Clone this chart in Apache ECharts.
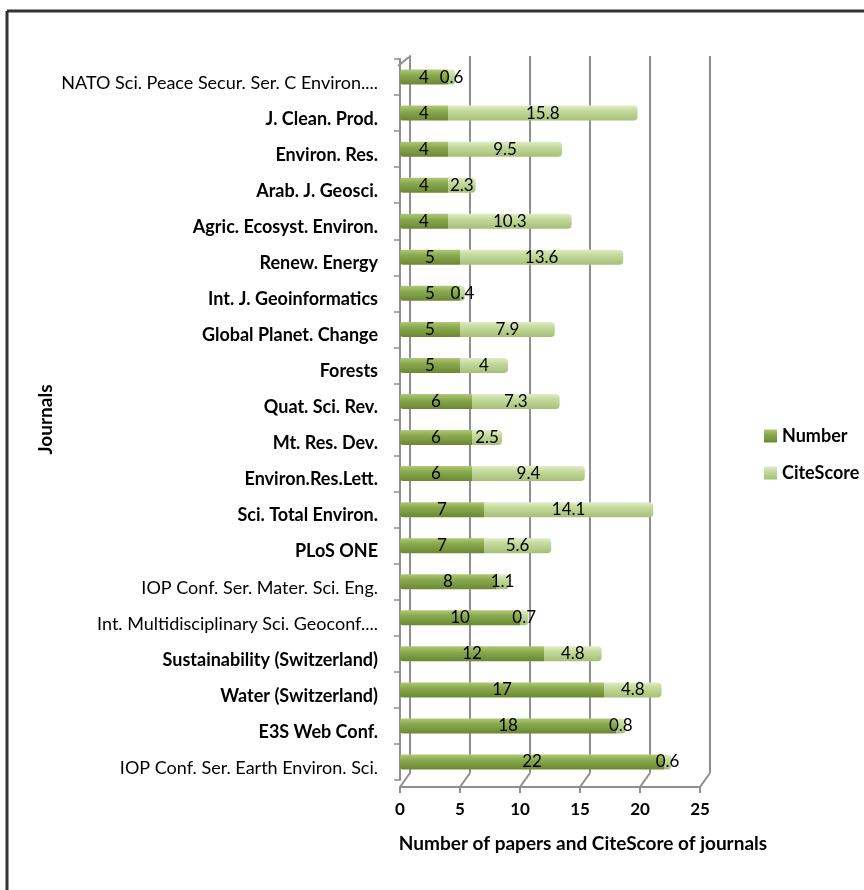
<!DOCTYPE html>
<html>
<head>
<meta charset="utf-8">
<script src="https://cdn.jsdelivr.net/npm/echarts@6/dist/echarts.min.js"></script>
<style>
  html, body { margin: 0; padding: 0; background: #fff; }
</style>
</head>
<body>
<div id="main" style="width:864px;height:890px;"></div>
<script>
// journals, listed bottom to top (as the category axis draws them)
var journals = [
  'IOP Conf. Ser. Earth Environ. Sci.',
  'E3S Web Conf.',
  'Water (Switzerland)',
  'Sustainability (Switzerland)',
  'Int. Multidisciplinary Sci. Geoconf....',
  'IOP Conf. Ser. Mater. Sci. Eng.',
  'PLoS ONE',
  'Sci. Total Environ.',
  'Environ.Res.Lett.',
  'Mt. Res. Dev.',
  'Quat. Sci. Rev.',
  'Forests',
  'Global Planet. Change',
  'Int. J. Geoinformatics',
  'Renew. Energy',
  'Agric. Ecosyst. Environ.',
  'Arab. J. Geosci.',
  'Environ. Res.',
  'J. Clean. Prod.',
  'NATO Sci. Peace Secur. Ser. C Environ....'
];
var numbers = [22, 18, 17, 12, 10, 8, 7, 7, 6, 6, 6, 5, 5, 5, 5, 4, 4, 4, 4, 4];
var citeScores = [0.6, 0.8, 4.8, 4.8, 0.7, 1.1, 5.6, 14.1, 9.4, 2.5, 7.3, 4, 7.9, 0.4, 13.6, 10.3, 2.3, 9.5, 15.8, 0.6];
var xTicks = [0, 5, 10, 15, 20, 25];

// these names are drawn in regular weight, the rest bold
var plainNames = [
  'IOP Conf. Ser. Earth Environ. Sci.',
  'Int. Multidisciplinary Sci. Geoconf....',
  'IOP Conf. Ser. Mater. Sci. Eng.',
  'NATO Sci. Peace Secur. Ser. C Environ....'
];

var font = 'Lato, "Open Sans", sans-serif';
var gridColor = '#8f8f8f';

var myChart = echarts.init(document.getElementById('main'));

function grad(top, mid, bottom) {
  return new echarts.graphic.LinearGradient(0, 0, 0, 1, [
    { offset: 0, color: top },
    { offset: 0.35, color: mid },
    { offset: 1, color: bottom }
  ]);
}

myChart.setOption({
  backgroundColor: '#fff',
  textStyle: { fontFamily: font },
  animation: false,
  legend: {
    orient: 'vertical',
    left: 759,
    top: 422,
    itemWidth: 13,
    itemHeight: 13,
    itemGap: 19,
    icon: 'rect',
    textStyle: { fontFamily: font, fontSize: 18, fontWeight: 'bold', color: '#000' },
    data: ['Number', 'CiteScore']
  },
  grid: [
    // front plane with the bars
    { left: 400, right: 164, top: 59, bottom: 110 },
    // back wall, shifted for the 3D look
    { left: 410, right: 154, top: 56, bottom: 117 }
  ],
  xAxis: [
    {
      gridIndex: 0,
      type: 'value',
      min: xTicks[0],
      max: xTicks[xTicks.length - 1],
      interval: 5,
      offset: 7,
      name: 'Number of papers and CiteScore of journals',
      nameLocation: 'middle',
      nameGap: 47,
      nameTextStyle: { fontFamily: font, fontSize: 19, fontWeight: 'bold', color: '#000', padding: [0, 0, 0, 66] },
      axisLine: { show: true, lineStyle: { color: gridColor, width: 2 } },
      axisTick: { show: true, length: 6, lineStyle: { color: gridColor, width: 2 } },
      axisLabel: { margin: 14, fontFamily: font, fontSize: 17, fontWeight: 'bold', color: '#000' },
      splitLine: { show: false }
    },
    {
      gridIndex: 1,
      type: 'value',
      min: 0,
      max: 25,
      interval: 5,
      axisLine: { show: false },
      axisTick: { show: false },
      axisLabel: { show: false },
      splitLine: { show: true, lineStyle: { color: gridColor, width: 2 } }
    }
  ],
  yAxis: [
    {
      gridIndex: 0,
      type: 'category',
      data: journals,
      offset: 2,
      name: 'Journals',
      nameLocation: 'middle',
      nameGap: 343,
      nameRotate: 90,
      nameTextStyle: { fontFamily: font, fontSize: 19, fontWeight: 'bold', color: '#000' },
      axisLine: { show: true, lineStyle: { color: gridColor, width: 2 } },
      axisTick: { show: true, length: 6, lineStyle: { color: gridColor, width: 1.5 } },
      axisLabel: {
        margin: 20,
        formatter: function (v) {
          return plainNames.indexOf(v) >= 0 ? '{n|' + v + '}' : '{b|' + v + '}';
        },
        rich: {
          n: { fontFamily: font, fontSize: 18, color: '#000', padding: [12, 0, 0, 0] },
          b: { fontFamily: font, fontSize: 18, fontWeight: 'bold', color: '#000', padding: [12, 0, 0, 0] }
        }
      }
    },
    {
      gridIndex: 1,
      type: 'value',
      axisLine: { show: true, lineStyle: { color: gridColor, width: 2 } },
      axisTick: { show: false },
      axisLabel: { show: false },
      splitLine: { show: false }
    }
  ],
  series: [
    {
      name: 'Number',
      type: 'bar',
      stack: 'total',
      xAxisIndex: 0,
      yAxisIndex: 0,
      barWidth: 15,
      z: 3,
      itemStyle: {
        color: grad('#b0c978', '#8cab50', '#6a8733'),
        borderRadius: [3, 0, 0, 3]
      },
      label: { show: true, position: 'inside', fontFamily: font, fontSize: 17, color: '#000' },
      data: numbers
    },
    {
      name: 'CiteScore',
      type: 'bar',
      stack: 'total',
      xAxisIndex: 0,
      yAxisIndex: 0,
      barWidth: 15,
      z: 3,
      itemStyle: {
        color: grad('#e0ecc8', '#c5da9c', '#a6bf78'),
        borderRadius: [0, 4, 4, 0]
      },
      label: { show: true, position: 'inside', fontFamily: font, fontSize: 17, color: '#000' },
      data: citeScores
    }
  ]
});

// frame and the 3D floor / corner connectors, placed from the axes
var frontBottom = 890 - 110 + 7;
var backBottom = 890 - 117;
var deco = [
  { type: 'line', shape: { x1: 7, y1: 11, x2: 864, y2: 11 }, style: { stroke: '#333', lineWidth: 3 } },
  { type: 'line', shape: { x1: 7, y1: 11, x2: 7, y2: 890 }, style: { stroke: '#333', lineWidth: 3 } }
];
xTicks.forEach(function (t) {
  var fx = myChart.convertToPixel({ xAxisIndex: 0 }, t);
  var bx = myChart.convertToPixel({ xAxisIndex: 1 }, t);
  deco.push({
    type: 'line',
    shape: { x1: fx, y1: frontBottom, x2: bx, y2: backBottom },
    style: { stroke: gridColor, lineWidth: 2 }
  });
});
deco.push({
  type: 'line',
  shape: { x1: 398, y1: 66, x2: 409, y2: 57 },
  style: { stroke: gridColor, lineWidth: 2 }
});
myChart.setOption({ graphic: deco });
</script>
</body>
</html>
